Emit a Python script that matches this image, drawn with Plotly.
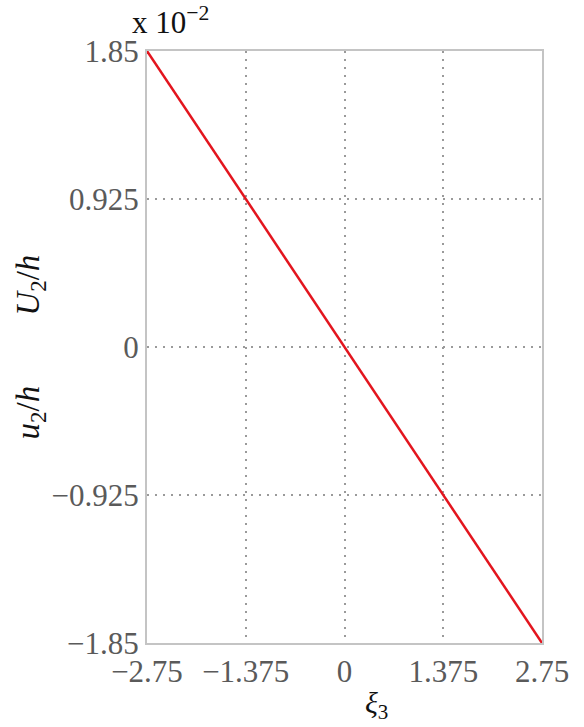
import plotly.graph_objects as go

xi3 = [-2.75, 0.0, 2.75]
u2_h = [1.85, 0.0, -1.85]
x_ticks = [-2.75, -1.375, 0, 1.375, 2.75]
x_tick_labels = ["\u22122.75", "\u22121.375", "0", "1.375", "2.75"]
y_ticks = [-1.85, -0.925, 0, 0.925, 1.85]
y_tick_labels = ["\u22121.85", "\u22120.925", "0", "0.925", "1.85"]

FONT = "Liberation Serif"
TICKCOL = "#5a5a5a"
TS = 31

fig = go.Figure()
fig.add_trace(go.Scatter(x=xi3, y=u2_h, mode="lines",
                         line=dict(color="#e3151e", width=2.5),
                         showlegend=False, hoverinfo="skip"))

grid = dict(showgrid=True, gridcolor="#9a9a9a", griddash="2px,6px", gridwidth=1.5,
            showline=True, linecolor="#c4c4c4", linewidth=2, mirror=True,
            zeroline=False, ticks="", tickfont=dict(family=FONT, size=TS, color=TICKCOL))

fig.update_layout(
    width=584, height=727,
    margin=dict(l=147, r=42, t=51, b=84),
    paper_bgcolor="white", plot_bgcolor="white",
    font=dict(family=FONT, size=TS, color=TICKCOL),
    xaxis=dict(range=[-2.75, 2.75], tickvals=x_ticks, ticktext=x_tick_labels, **grid),
    yaxis=dict(range=[-1.85, 1.85], tickvals=y_ticks, ticktext=y_tick_labels, **grid),
)

fig.add_annotation(text="x 10<sup>\u22122</sup>", xref="paper", yref="paper",
                   x=-0.043, y=1.052, xanchor="left", yanchor="middle", showarrow=False,
                   font=dict(family=FONT, size=31, color="#111111"))
fig.add_annotation(text="<i>\u03be</i><sub>3</sub>", xref="paper", yref="paper",
                   x=0.582, y=-0.105, xanchor="center", yanchor="middle", showarrow=False,
                   font=dict(family=FONT, size=30, color="#111111"))
fig.add_annotation(text="<i>U</i><sub>2</sub>/<i>h</i>", xref="paper", yref="paper",
                   x=-0.294, y=0.605, xanchor="center", yanchor="middle", showarrow=False,
                   textangle=-90, font=dict(family=FONT, size=33, color="#111111"))
fig.add_annotation(text="<i>u</i><sub>2</sub>/<i>h</i>", xref="paper", yref="paper",
                   x=-0.294, y=0.389, xanchor="center", yanchor="middle", showarrow=False,
                   textangle=-90, font=dict(family=FONT, size=33, color="#111111"))

fig.write_html("out.html")
